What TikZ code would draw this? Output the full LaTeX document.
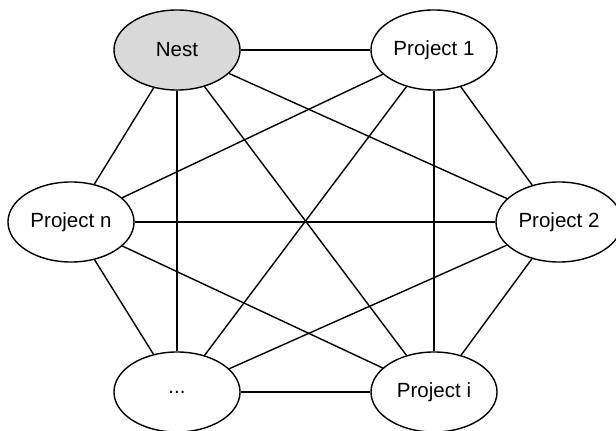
\documentclass[tikz,border=0pt]{standalone}
\usepackage{fontspec}
\setmainfont{Liberation Sans}
\usepackage{tikz}
\usetikzlibrary{shapes.geometric}
\definecolor{nestgray}{RGB}{217,217,217}
\tikzset{
  proj/.style={
    ellipse, draw=black, line width=1pt, fill=white,
    minimum width=3.15cm, minimum height=2cm, inner sep=0pt,
    font=\fontsize{14.6}{17}\selectfont
  },
  nestnode/.style={
    proj, fill=nestgray
  },
  link/.style={
    line width=1pt, color=black
  }
}

\begin{document}
\begin{tikzpicture}[x=0.025cm, y=-0.025cm]
\useasboundingbox (0,0) rectangle (616,431);
\node[nestnode] (nest) at (177,50) {Nest};
\node[proj] (proj1) at (434,50) {Project 1};
\node[proj] (proj2) at (559,222) {Project 2};
\node[proj] (proji) at (434,392) {Project i};
\node[proj] (dots) at (177,392) {...};
\node[proj] (projn) at (71,222) {Project n};
% every node is linked to every other node
\foreach \a/\b in {nest/proj1, nest/proj2, nest/proji, nest/dots, nest/projn,
                   proj1/proj2, proj1/proji, proj1/dots, proj1/projn,
                   proj2/proji, proj2/dots, proj2/projn,
                   proji/dots, proji/projn,
                   dots/projn}
  \draw[link] (\a) -- (\b);
\end{tikzpicture}
\end{document}
